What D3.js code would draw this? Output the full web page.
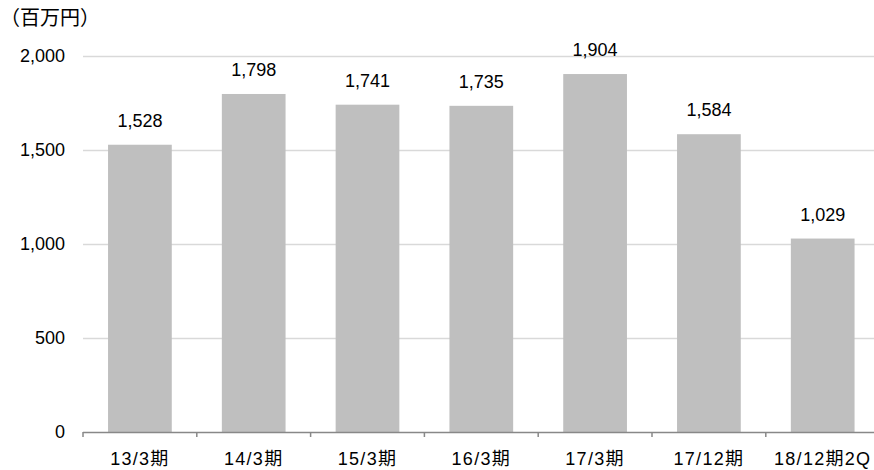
<!DOCTYPE html>
<html><head><meta charset="utf-8">
<script src="https://cdn.jsdelivr.net/npm/d3@7/dist/d3.min.js"></script>
<style>
body{margin:0;background:#fff;}
text{font-family:"Liberation Sans","Noto Sans CJK JP",sans-serif;fill:#000;}
</style></head>
<body><svg id="c" width="874" height="470"></svg>
<script>
const categories = ["13/3期","14/3期","15/3期","16/3期","17/3期","17/12期","18/12期2Q"];
const values = [1528,1798,1741,1735,1904,1584,1029];
const yTicks = [0,500,1000,1500,2000];
const unitLabel = "（百万円）";

const svg = d3.select("#c");
const x0 = 83, x1 = 83 + 7*113.8, y0 = 432, y1 = 56;
const x = d3.scaleBand().domain(categories).range([x0, x1]).paddingInner(0.44).paddingOuter(0.22);
const y = d3.scaleLinear().domain([0,2000]).range([y0, y1]);
const fmt = d3.format(",");

// gridlines
svg.append("g").selectAll("line").data(yTicks.filter(d=>d>0)).join("line")
  .attr("x1", x0).attr("x2", 874).attr("y1", d=>y(d)+0.5).attr("y2", d=>y(d)+0.5)
  .attr("stroke", "#d9d9d9").attr("stroke-width", 1.3);

// y labels
svg.append("g").selectAll("text").data(yTicks).join("text")
  .attr("x", 65).attr("y", d=>y(d)).attr("dy","0.35em")
  .attr("text-anchor","end").attr("font-size","18px").text(d=>fmt(d));

// bars
svg.append("g").selectAll("rect").data(values).join("rect")
  .attr("x", (d,i)=>x(categories[i])).attr("width", x.bandwidth())
  .attr("y", d=>y(d)).attr("height", d=>y0 - y(d)).attr("fill","#bfbfbf");

// value labels
svg.append("g").selectAll("text").data(values).join("text")
  .attr("x",(d,i)=>x(categories[i])+x.bandwidth()/2).attr("y", d=>y(d)-18)
  .attr("text-anchor","middle").attr("font-size","18px").text(d=>fmt(d));

// x axis
const step = (x1-x0)/categories.length;
svg.append("line").attr("x1",x0).attr("x2",874).attr("y1",y0+0.5).attr("y2",y0+0.5)
  .attr("stroke","#888").attr("stroke-width",1.5);
svg.append("g").selectAll("line").data(d3.range(categories.length)).join("line")
  .attr("x1",i=>x0+i*step).attr("x2",i=>x0+i*step).attr("y1",y0).attr("y2",y0+5)
  .attr("stroke","#888").attr("stroke-width",1.5);
svg.append("g").selectAll("text").data(categories).join("text")
  .attr("x",d=>x(d)+x.bandwidth()/2).attr("y",465)
  .attr("text-anchor","middle").attr("font-size","18px").attr("letter-spacing","1.3px").text(d=>d);

svg.append("text").attr("x",0).attr("y",25).attr("font-size","20px")
  .style("font-family",'"Noto Sans CJK JP",sans-serif').text(unitLabel);
</script></body></html>
